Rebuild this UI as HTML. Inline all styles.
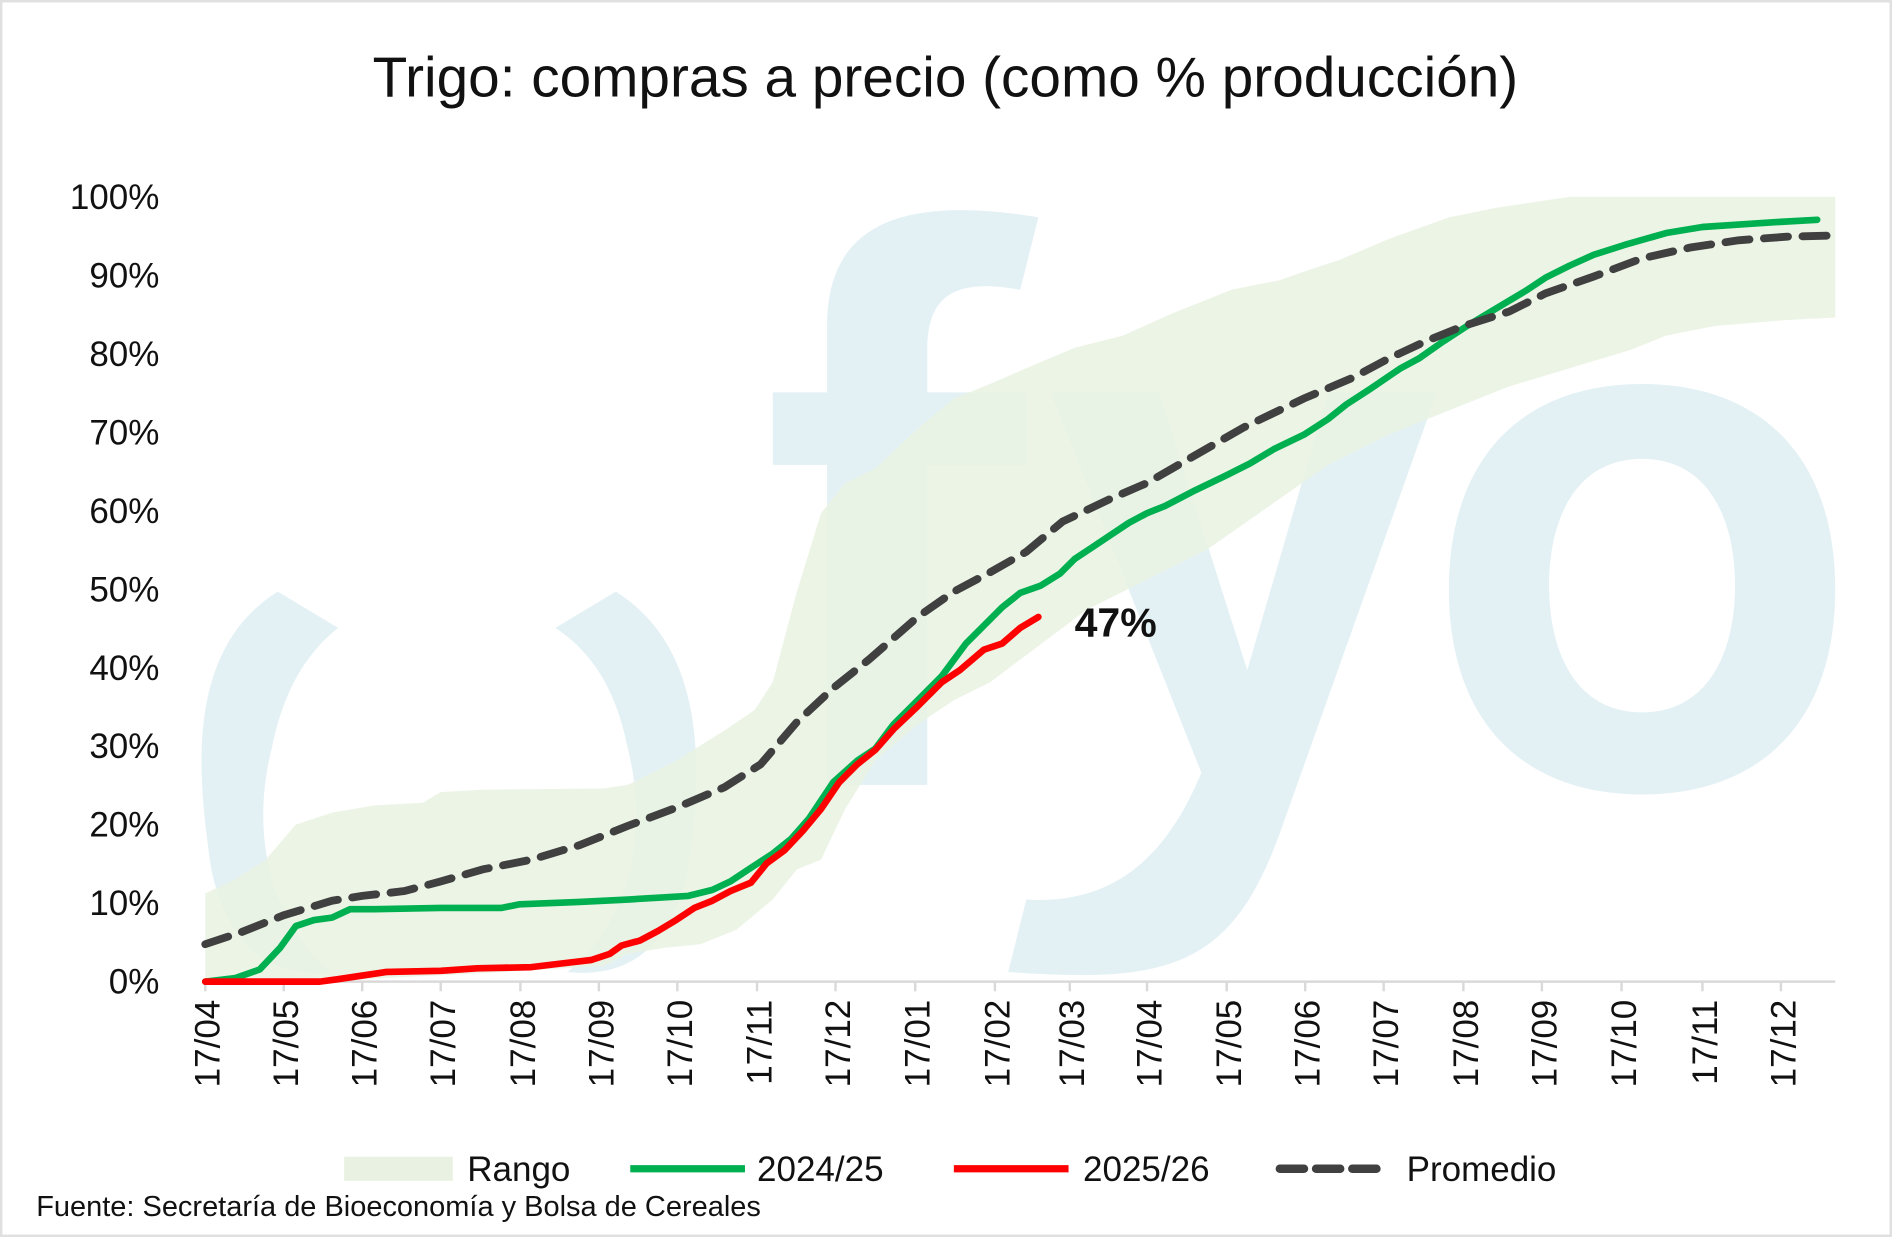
<!DOCTYPE html>
<html><head><meta charset="utf-8"><style>
html,body{margin:0;padding:0;background:#fff}
svg{display:block}
text{font-family:"Liberation Sans",sans-serif}
</style></head><body>
<svg width="1892" height="1237" viewBox="0 0 1567 1024.5" xmlns="http://www.w3.org/2000/svg">
<rect x="1" y="1" width="1565" height="1022.5" fill="#fff" stroke="#e0e0e0" stroke-width="2"/>
<text x="783" y="80" text-anchor="middle" font-size="47" fill="#111">Trigo: compras a precio (como % producción)</text>
<!-- watermark -->
<g fill="#e3f1f5">
<path d="M230,490 C150,540 165,650 175,720 C190,790 230,810 275,805 C230,770 205,700 225,620 C235,570 255,540 280,520 Z"/>
<path d="M510,490 C590,540 580,650 570,720 C555,790 515,810 470,805 C515,770 540,700 520,620 C510,570 490,540 460,520 Z"/>
<path d="M685,650 L685,270 C685,190 740,160 860,180 L845,240 C790,230 768,245 768,290 L768,325 L850,325 L850,385 L768,385 L768,650 Z"/>
<path d="M640,325 L768,325 L768,385 L640,385 Z"/>
<path d="M870,325 L960,325 L1033,555 L1100,325 L1190,325 L1060,690 C1020,800 970,815 835,805 L850,745 C930,750 970,700 995,640 Z"/>
<path fill-rule="evenodd" d="M1200,488 C1200,380 1260,318 1360,318 C1460,318 1520,380 1520,488 C1520,596 1460,658 1360,658 C1260,658 1200,596 1200,488 Z M1283,485 C1283,540 1305,590 1360,590 C1415,590 1437,540 1437,485 C1437,430 1415,380 1360,380 C1305,380 1283,430 1283,485 Z"/>
</g>
<!-- y labels -->
<g font-size="29" fill="#111" text-anchor="end">
<text x="132" y="823">0%</text><text x="132" y="758">10%</text><text x="132" y="693">20%</text><text x="132" y="628">30%</text><text x="132" y="563">40%</text><text x="132" y="498">50%</text><text x="132" y="433">60%</text><text x="132" y="368">70%</text><text x="132" y="303">80%</text><text x="132" y="238">90%</text><text x="132" y="173">100%</text>
</g>
<!-- range -->
<path fill="#e9f2e2" d="M170,740 L195,728 L220,712 L245,683 L275,673 L310,667 L350,665 L365,656 L400,654 L500,653 L520,650 L560,630 L600,605 L625,588 L640,565 L660,490 L680,425 L700,400 L725,388 L760,355 L790,330 L820,318 L850,305 L890,288 L930,278 L970,260 L1020,240 L1060,232 L1080,225 L1110,215 L1150,198 L1200,180 L1240,172 L1300,163 L1520,163 L1520,263 L1480,265 L1420,270 L1380,278 L1350,290 L1300,305 L1250,320 L1200,340 L1150,360 L1100,385 L1050,420 L1000,455 L950,480 L900,505 L860,535 L820,565 L790,580 L760,600 L725,630 L700,670 L680,712 L660,720 L640,745 L610,770 L580,782 L550,785 L520,790 L500,800 L400,806 L300,811 L250,813 L170,813 Z" opacity="0.85"/>
<!-- axis -->
<line x1="168" y1="813" x2="1520" y2="813" stroke="#d9d9d9" stroke-width="2"/>
<g stroke="#d9d9d9" stroke-width="2">
<line x1="170" y1="813" x2="170" y2="821"/><line x1="235" y1="813" x2="235" y2="821"/><line x1="300" y1="813" x2="300" y2="821"/><line x1="365" y1="813" x2="365" y2="821"/><line x1="431" y1="813" x2="431" y2="821"/><line x1="496" y1="813" x2="496" y2="821"/><line x1="561" y1="813" x2="561" y2="821"/><line x1="627" y1="813" x2="627" y2="821"/><line x1="692" y1="813" x2="692" y2="821"/><line x1="758" y1="813" x2="758" y2="821"/><line x1="824" y1="813" x2="824" y2="821"/><line x1="886" y1="813" x2="886" y2="821"/><line x1="950" y1="813" x2="950" y2="821"/><line x1="1016" y1="813" x2="1016" y2="821"/><line x1="1081" y1="813" x2="1081" y2="821"/><line x1="1146" y1="813" x2="1146" y2="821"/><line x1="1212" y1="813" x2="1212" y2="821"/><line x1="1277" y1="813" x2="1277" y2="821"/><line x1="1343" y1="813" x2="1343" y2="821"/><line x1="1410" y1="813" x2="1410" y2="821"/><line x1="1475" y1="813" x2="1475" y2="821"/>
</g>
<g font-size="29" fill="#111" text-anchor="end">
<text transform="translate(182,828) rotate(-90)">17/04</text>
<text transform="translate(247,828) rotate(-90)">17/05</text>
<text transform="translate(312,828) rotate(-90)">17/06</text>
<text transform="translate(377,828) rotate(-90)">17/07</text>
<text transform="translate(443,828) rotate(-90)">17/08</text>
<text transform="translate(508,828) rotate(-90)">17/09</text>
<text transform="translate(573,828) rotate(-90)">17/10</text>
<text transform="translate(639,828) rotate(-90)">17/11</text>
<text transform="translate(704,828) rotate(-90)">17/12</text>
<text transform="translate(770,828) rotate(-90)">17/01</text>
<text transform="translate(836,828) rotate(-90)">17/02</text>
<text transform="translate(898,828) rotate(-90)">17/03</text>
<text transform="translate(962,828) rotate(-90)">17/04</text>
<text transform="translate(1028,828) rotate(-90)">17/05</text>
<text transform="translate(1093,828) rotate(-90)">17/06</text>
<text transform="translate(1158,828) rotate(-90)">17/07</text>
<text transform="translate(1224,828) rotate(-90)">17/08</text>
<text transform="translate(1289,828) rotate(-90)">17/09</text>
<text transform="translate(1355,828) rotate(-90)">17/10</text>
<text transform="translate(1422,828) rotate(-90)">17/11</text>
<text transform="translate(1487,828) rotate(-90)">17/12</text>
</g>
<!-- series -->
<polyline fill="none" stroke="#00b050" stroke-width="5.5" stroke-linejoin="round" stroke-linecap="round" points="170,813 195,810 215,803 232,785 245,767 260,762 275,760 290,753 310,753 365,752 415,752 430,749 480,747 520,745 570,742 590,737 605,730 620,720 640,707 655,695 670,678 690,648 710,630 725,620 740,600 760,580 780,560 800,533 815,518 830,503 845,491 862,485 878,475 890,463 905,453 920,443 935,433 950,425 965,419 990,406 1015,394 1035,384 1055,372 1080,360 1100,347 1115,335 1135,322 1160,305 1175,297 1195,283 1215,270 1240,255 1265,240 1280,230 1300,220 1320,211 1345,203 1380,193 1410,188 1440,186 1470,184 1505,182"/>
<polyline fill="none" stroke="#ff0000" stroke-width="5.5" stroke-linejoin="round" stroke-linecap="round" points="170,813 265,813 280,811 300,808 320,805 365,804 395,802 440,801 465,798 490,795 505,790 515,783 530,779 545,771 560,762 575,752 590,746 605,738 622,731 635,715 650,704 665,688 680,670 695,648 710,633 725,621 740,604 760,585 780,565 795,555 815,538 830,533 845,520 860,511"/>
<polyline fill="none" stroke="#404040" stroke-width="6.5" stroke-dasharray="20,12" stroke-linecap="round" points="170,782 200,772 235,758 275,746 300,742 335,738 365,730 400,720 440,712 480,700 520,684 560,669 600,652 630,633 660,598 690,570 720,546 760,511 790,490 820,474 850,457 880,432 920,413 950,400 990,377 1030,354 1080,330 1120,313 1150,297 1180,283 1212,270 1250,258 1280,243 1320,229 1360,214 1400,205 1440,199 1480,196 1520,195"/>
<text x="890" y="527" font-size="34" font-weight="bold" fill="#111">47%</text>
<!-- legend -->
<rect x="285" y="958" width="90" height="20" fill="#e9f2e2"/>
<text x="387" y="978" font-size="29" fill="#111">Rango</text>
<line x1="522" y1="968" x2="617" y2="968" stroke="#00b050" stroke-width="6"/>
<text x="627" y="978" font-size="29" fill="#111">2024/25</text>
<line x1="790" y1="968" x2="885" y2="968" stroke="#ff0000" stroke-width="6"/>
<text x="897" y="978" font-size="29" fill="#111">2025/26</text>
<line x1="1060" y1="968" x2="1150" y2="968" stroke="#404040" stroke-width="7" stroke-dasharray="20,10" stroke-linecap="round"/>
<text x="1165" y="978" font-size="29" fill="#111">Promedio</text>
<text x="30" y="1007" font-size="24" fill="#111">Fuente: Secretaría de Bioeconomía y Bolsa de Cereales</text>
</svg>
</body></html>
